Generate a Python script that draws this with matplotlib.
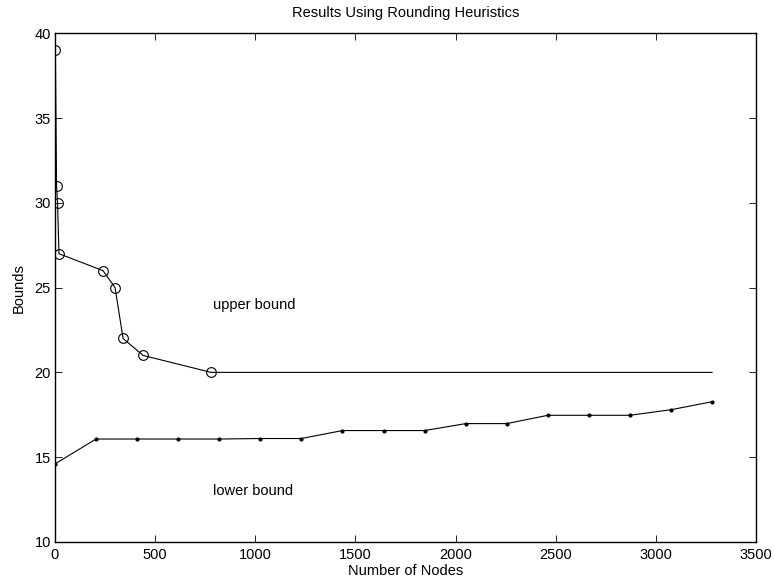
import matplotlib
matplotlib.use('Agg')
import matplotlib.pyplot as plt

plt.rcParams['font.family'] = ['Liberation Sans', 'DejaVu Sans']

# upper bound from the rounding heuristics (last point only extends the line)
upper_nodes = [2, 8, 13, 20, 240, 300, 340, 440, 780, 3280]
upper_vals = [39, 31, 30, 27, 26, 25, 22, 21, 20, 20]

# lower bound
lower_nodes = [0, 205, 410, 615, 820, 1025, 1230, 1435, 1640, 1845,
               2050, 2255, 2460, 2665, 2870, 3075, 3280]
lower_vals = [14.6, 16.07, 16.07, 16.07, 16.07, 16.1, 16.1, 16.57, 16.57, 16.57,
              16.98, 16.98, 17.47, 17.47, 17.47, 17.8, 18.27]

fig = plt.figure(figsize=(7.74, 5.84), dpi=100)
ax = fig.add_axes([0.071, 0.072, 0.906, 0.871])

ax.plot(upper_nodes, upper_vals, '-', color='black', lw=0.8,
        marker='o', markersize=7, mfc='none', mec='black', mew=0.8,
        markevery=list(range(len(upper_nodes) - 1)))
ax.plot(lower_nodes, lower_vals, '-', color='black', lw=0.8,
        marker='.', markersize=4)

ax.text(787, 24, 'upper bound', fontsize=10.5, va='center')
ax.text(790, 13.0, 'lower bound', fontsize=10.5, va='center')

ax.set_xlim(0, 3500)
ax.set_ylim(10, 40)
ax.set_xticks(range(0, 3501, 500))
ax.set_yticks(range(10, 41, 5))
ax.tick_params(direction='in', top=True, right=True, labelsize=10.5,
               length=5, width=0.6)
ax.tick_params(axis='x', pad=4)
ax.tick_params(axis='y', pad=3)
for s in ax.spines.values():
    s.set_linewidth(1.0)

ax.set_xlabel('Number of Nodes', fontsize=10.5, labelpad=2)
ax.set_ylabel('Bounds', fontsize=10.5, labelpad=6)
ax.set_title('Results Using Rounding Heuristics', fontsize=10.5, pad=12)

fig.savefig('out.png', dpi=100)
